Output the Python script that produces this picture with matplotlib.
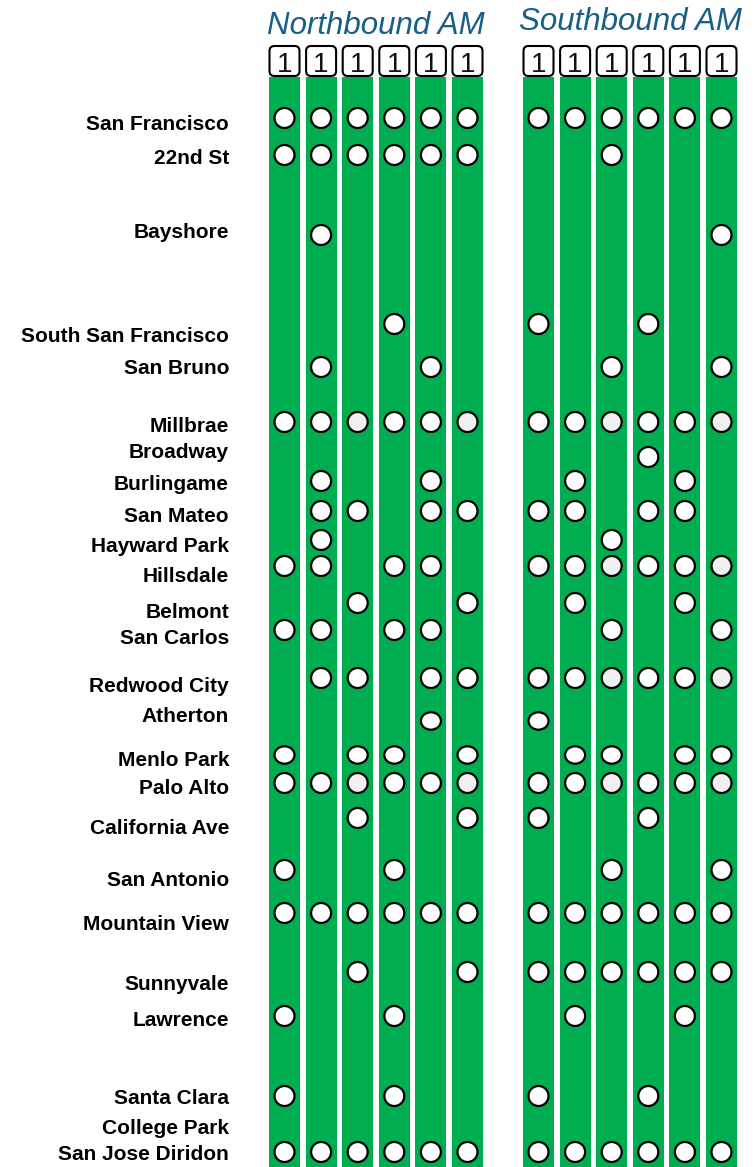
import numpy as np
import matplotlib
matplotlib.use("Agg")
import matplotlib.pyplot as plt
from matplotlib.patches import Ellipse, FancyBboxPatch

plt.rcParams['font.family'] = ['Liberation Sans', 'DejaVu Sans']

# stations, top (San Francisco) to bottom (San Jose)
stations = ["San Francisco", "22nd St", "Bayshore", "South San Francisco",
            "San Bruno", "Millbrae", "Broadway", "Burlingame", "San Mateo",
            "Hayward Park", "Hillsdale", "Belmont", "San Carlos",
            "Redwood City", "Atherton", "Menlo Park", "Palo Alto",
            "California Ave", "San Antonio", "Mountain View", "Sunnyvale",
            "Lawrence", "Santa Clara", "College Park", "San Jose Diridon"]

# one string per station, one char per train: o = stop, g = stop (grey), . = no stop
nb_stops = ["oooooo", "oooooo", ".o....", "...o..", ".o..o.",
            "oogoog", "......", ".o..o.", ".oo.oo", ".o....",
            "oo.oo.", "..o..o", "oo.oo.", ".oo.oo", "....o.",
            "o.oo.o", "oogoog", "..o..o", "o..o..", "oooooo",
            "..o..o", "o..o..", "o..o..", "......", "oooooo"]

sb_stops = ["oooooo", "..o...", ".....o", "o..o..", "..o..o",
            "oogoog", "...o..", ".o..o.", "oo.oo.", "..o...",
            "oogoog", ".o..o.", "..o..o", "oogoog", "o.....",
            ".oo.oo", "oogoog", "o..o..", "..o..o", "oooooo",
            "oooooo", ".o..o.", "o..o..", "......", "oooooo"]

train_labels = ["1", "1", "1", "1", "1", "1"]

# layout (pixel coordinates, y downwards)
stop_y  = [118, 155, 235, 324, 367, 422, 457, 481, 511, 540, 566, 603, 630,
           678, 721, 755, 783, 818, 870, 913, 972, 1016, 1096, 1125, 1152]
label_y = [122, 156, 231, 334, 366, 424, 451, 482, 515, 544, 574, 610, 637,
           684, 714, 758, 787, 826, 879, 922, 982, 1019, 1097, 1126, 1152]
squash = {"Atherton": 0.87, "Menlo Park": 0.87}

GREEN = '#00AD50'
TITLE = '#175E88'
W, H = 755, 1167

fig = plt.figure(figsize=(W / 100, H / 100), dpi=100)
ax = fig.add_axes([0, 0, 1, 1])
ax.set_xlim(0, W)
ax.set_ylim(H, 0)
ax.axis('off')

def draw_group(x0, stops, title, title_y):
    xs = x0 + 36.6 * np.arange(len(train_labels))
    ax.bar(xs, H - 77, bottom=77, width=31, color=GREEN, zorder=1)
    for x, lab in zip(xs, train_labels):
        ax.add_patch(FancyBboxPatch((x - 13, 48), 26, 26,
                                    boxstyle="round,pad=2,rounding_size=5",
                                    fc='white', ec='black', lw=1.5, zorder=3))
        ax.text(x, 71.5, lab, ha='center', va='baseline', fontsize=20,
                color='#111111', zorder=4)
    for name, y, row in zip(stations, stop_y, stops):
        k = squash.get(name, 1.0)
        for x, c in zip(xs, row):
            if c == '.':
                continue
            fc = '#F0F0F0' if c == 'g' else 'white'
            ax.add_patch(Ellipse((x, y), 20, 20 * k, fc=fc, ec='black',
                                 lw=1.6, zorder=2))
    ax.text(xs.mean(), title_y, title, ha='center', va='baseline',
            fontsize=22.5, style='italic', color=TITLE)

draw_group(284.5, nb_stops, "Northbound AM", 34.5)
draw_group(538.5, sb_stops, "Southbound AM", 29.5)

for name, y in zip(stations, label_y):
    ax.text(229, y + 7.5, name, ha='right', va='baseline', fontsize=15,
            fontweight='bold', color='black')

fig.savefig("out.png", dpi=100)
